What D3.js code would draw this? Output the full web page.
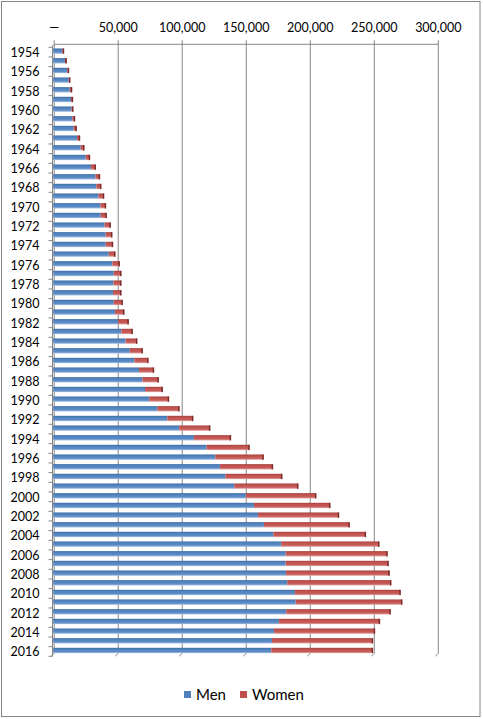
<!DOCTYPE html>
<html>
<head>
<meta charset="utf-8">
<script src="https://cdn.jsdelivr.net/npm/d3@7"></script>
<style>
  body { margin: 0; background: #fff; }
  text { font-family: Lato, "Open Sans", sans-serif; fill: #000; }
</style>
</head>
<body>
<div id="chart"></div>
<script>
// data (thousands -> people)
const years = [1954, 1955, 1956, 1957, 1958, 1959, 1960, 1961, 1962, 1963,
    1964, 1965, 1966, 1967, 1968, 1969, 1970, 1971, 1972, 1973,
    1974, 1975, 1976, 1977, 1978, 1979, 1980, 1981, 1982, 1983,
    1984, 1985, 1986, 1987, 1988, 1989, 1990, 1991, 1992, 1993,
    1994, 1995, 1996, 1997, 1998, 1999, 2000, 2001, 2002, 2003,
    2004, 2005, 2006, 2007, 2008, 2009, 2010, 2011, 2012, 2013,
    2014, 2015, 2016];

const men = [7200, 9200, 11100, 12100, 12900, 13900, 14200, 15000, 16000, 18600,
    21500, 25400, 29500, 33000, 33700, 35300, 36900, 37100, 40200, 41000,
    41000, 43400, 46200, 47300, 47000, 46700, 47300, 48300, 50600, 53200,
    56600, 59800, 63400, 67000, 69700, 71700, 75000, 81300, 89100, 98400,
    109900, 119800, 126600, 130200, 134400, 141400, 150500, 156800, 159900, 164600,
    171900, 178100, 181600, 181600, 181800, 182800, 188800, 189400, 182000, 176300,
    172400, 170900, 170300];

const women = [1000, 1100, 1000, 1000, 1600, 1300, 1300, 1800, 2100, 2100,
    2600, 3100, 3500, 3300, 3600, 4200, 4100, 4400, 4500, 4900,
    5500, 4900, 5500, 5700, 6000, 6300, 6700, 7000, 8100, 8600,
    8800, 9900, 10700, 11500, 12500, 13600, 15200, 17100, 20000, 24000,
    28700, 33300, 37500, 41200, 44300, 49800, 54700, 59400, 63100, 66700,
    72100, 76400, 79300, 80100, 80700, 81000, 82300, 83000, 81300, 78700,
    78700, 78600, 79200];

const xTicks = [0, 50000, 100000, 150000, 200000, 250000, 300000];
const seriesNames = ["Men", "Women"];
const seriesColors = ["#4F81BD", "#C0504D"];

const width = 483,
    height = 719;

const svg = d3.select("#chart")
    .append("svg")
    .attr("width", width)
    .attr("height", height);

// outer frame
svg.append("rect")
    .attr("x", 1.5).attr("y", 1.5)
    .attr("width", 478.5).attr("height", 715)
    .attr("fill", "#fff")
    .attr("stroke", "#868686");

// shaded look of the 3D bars
const defs = svg.append("defs");
const shades = [
    ["#3B69A3", "#4F81BD", "#5E8DC6", "#A9C1E3"],
    ["#A23E3B", "#C0504D", "#C65D5A", "#E3A9A7"]
];
shades.forEach((s, i) => {
    const g = defs.append("linearGradient")
        .attr("id", "grad" + i)
        .attr("x1", 0).attr("y1", 0).attr("x2", 0).attr("y2", 1);
    g.append("stop").attr("offset", "0%").attr("stop-color", s[0]);
    g.append("stop").attr("offset", "25%").attr("stop-color", s[1]);
    g.append("stop").attr("offset", "70%").attr("stop-color", s[2]);
    g.append("stop").attr("offset", "100%").attr("stop-color", s[3]);
});

const x = d3.scaleLinear()
    .domain([0, 300000])
    .range([54.2, 438.3]);

const y = d3.scaleBand()
    .domain(years)
    .range([47.3, 656.3])
    .paddingInner(0.45)
    .paddingOuter(0.225);

const step = y.step();
const wallTop = 44.3,
    wallBottom = 653.3;

// gridlines on the back wall, with the slanted foot
const grid = svg.append("g").attr("stroke", "#868686").attr("fill", "none");
grid.selectAll("path")
    .data(xTicks)
    .join("path")
    .attr("d", d => `M${x(d)},${wallTop}V${wallBottom}l-3,3`)
    .attr("stroke-width", 1);

// top axis line + tick marks
grid.append("line")
    .attr("x1", x(0)).attr("x2", x(300000))
    .attr("y1", wallTop).attr("y2", wallTop);
grid.selectAll("line.tick")
    .data(xTicks)
    .join("line")
    .attr("class", "tick")
    .attr("x1", d => x(d)).attr("x2", d => x(d))
    .attr("y1", wallTop - 4).attr("y2", wallTop);

// left axis (front edge) + ticks between categories
const leftX = x(0) - 1.7;
grid.append("line")
    .attr("x1", leftX).attr("x2", leftX)
    .attr("y1", 46).attr("y2", 656.3);
grid.append("line")
    .attr("x1", leftX).attr("x2", x(0))
    .attr("y1", 46).attr("y2", wallTop);
grid.selectAll("line.ytick")
    .data(d3.range(years.length + 1))
    .join("line")
    .attr("class", "ytick")
    .attr("x1", leftX - 4).attr("x2", leftX)
    .attr("y1", i => 47.3 + i * step).attr("y2", i => 47.3 + i * step);

// x tick labels
svg.selectAll("text.xlabel")
    .data(xTicks)
    .join("text")
    .attr("class", "xlabel")
    .attr("x", d => x(d))
    .attr("y", 32)
    .attr("text-anchor", "middle")
    .style("font-size", "12.5px")
    .text(d => d === 0 ? "—" : d3.format(",")(d));

// year labels (every other one)
svg.selectAll("text.ylabel")
    .data(years.filter((d, i) => i % 2 === 0))
    .join("text")
    .attr("class", "ylabel")
    .attr("x", 39.5)
    .attr("y", d => y(d) + y.bandwidth() / 2 + 5)
    .attr("text-anchor", "end")
    .style("font-size", "12.5px")
    .text(d => d);

// stacked bars, shifted to the front plane
const bars = svg.append("g").attr("transform", "translate(-1,-1)");
const stacked = years.map((yr, i) => ({ year: yr, men: men[i], women: women[i] }));

bars.selectAll("rect.men")
    .data(stacked)
    .join("rect")
    .attr("class", "men")
    .attr("x", x(0))
    .attr("y", d => y(d.year))
    .attr("width", d => x(d.men) - x(0))
    .attr("height", y.bandwidth())
    .attr("fill", "url(#grad0)");

bars.selectAll("rect.women")
    .data(stacked)
    .join("rect")
    .attr("class", "women")
    .attr("x", d => x(d.men))
    .attr("y", d => y(d.year))
    .attr("width", d => x(d.men + d.women) - x(d.men))
    .attr("height", y.bandwidth())
    .attr("fill", "url(#grad1)");

// dark end face of each bar
bars.selectAll("rect.cap")
    .data(stacked)
    .join("rect")
    .attr("class", "cap")
    .attr("x", d => x(d.men + d.women) - 1)
    .attr("y", d => y(d.year))
    .attr("width", 1.5)
    .attr("height", y.bandwidth())
    .attr("fill", "#7E2B29");

// legend
const legend = svg.append("g");
const legendX = [184, 240];
seriesNames.forEach((name, i) => {
    legend.append("rect")
        .attr("x", legendX[i]).attr("y", 691)
        .attr("width", 7).attr("height", 7)
        .attr("fill", seriesColors[i]);
    legend.append("text")
        .attr("x", legendX[i] + 12)
        .attr("y", 700)
        .style("font-size", "15px")
        .text(name);
});
</script>
</body>
</html>
